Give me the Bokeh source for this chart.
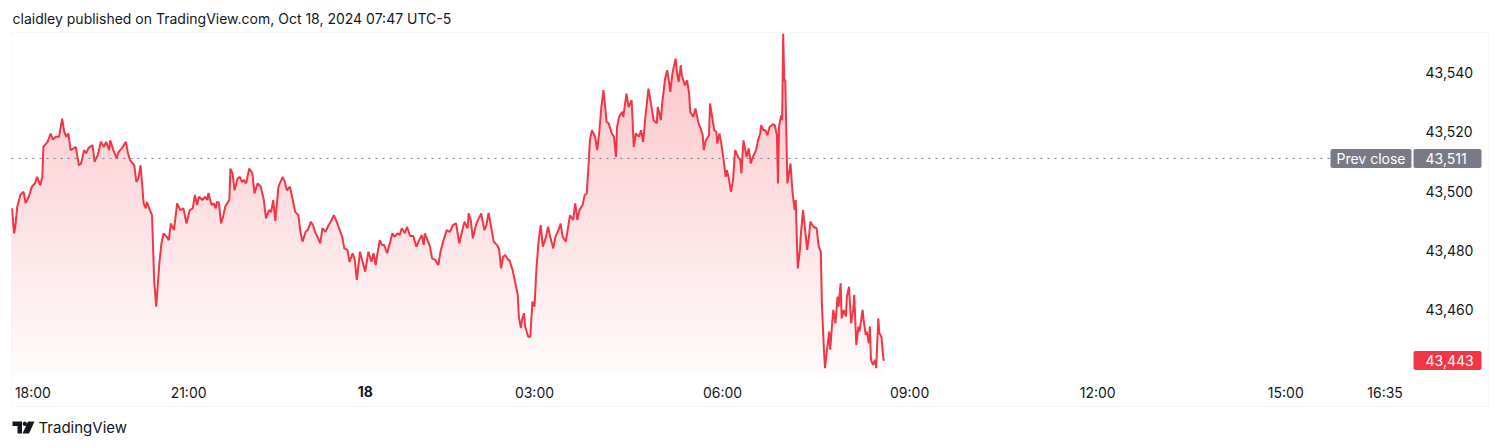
import sys
import numpy as np
from bokeh.plotting import figure
from bokeh.models import (FixedTicker, NumeralTickFormatter, Label,
                          BoxAnnotation, PolyAnnotation, Range1d)
from bokeh.embed import file_html
from bokeh.resources import INLINE

# ---------------- data ----------------
title_text = "claidley published on TradingView.com, Oct 18, 2024 07:47 UTC-5"
footer_text = "TradingView"

# x = bar index (1-minute bars, 0 = 18:00 of Oct 17)
bars = [
    -20, -18, -17, -15, -12, -9, -7, -4, -1, 2,
    4, 7, 9, 10, 14, 17, 19, 22, 25, 28,
    30, 32, 34, 36, 39, 41, 44, 46, 49, 51,
    53, 57, 59, 62, 65, 68, 70, 73, 74, 77,
    80, 82, 85, 89, 91, 93, 97, 99, 101, 103,
    106, 108, 109, 112, 114, 116, 118, 121, 123, 125,
    128, 130, 132, 135, 138, 141, 144, 147, 150,
    153, 155, 157, 159, 162, 165, 167, 168, 171, 173,
    175, 176, 178, 180, 182, 184, 186, 188, 189, 191,
    193, 196, 198, 200, 202, 204, 207, 210, 212, 215,
    218, 221, 223, 226, 228, 230, 232, 235, 239, 241,
    243, 246, 248, 251, 254, 256, 258, 261, 263, 266,
    268, 270, 273, 275, 277, 280, 283, 285, 288, 290,
    293, 296, 298, 301, 303, 306, 308, 310, 313, 315,
    318, 321, 324, 326, 328, 330, 332, 334, 336, 339,
    342, 344, 346, 349, 351, 353, 356, 358, 361, 364,
    367, 369, 372, 374, 375, 377, 380, 382, 385, 388,
    390, 393, 396, 399, 402, 405, 408, 411, 413, 416,
    417, 419, 421, 424, 426, 429, 432, 434, 436, 439,
    441, 444, 446, 448, 450, 452, 455, 456, 459, 461,
    464, 465, 467, 468, 470, 471, 474, 476, 478, 480,
    482, 484, 486,
    488, 491, 493, 495, 498, 500, 503, 505, 507, 510,
    512, 514, 517, 519, 521, 523, 526, 528, 530, 532,
    533, 535, 538, 540, 542, 544, 546, 549, 551, 554,
    556, 558, 559, 561, 564, 565, 568, 570, 573, 575,
    577, 580, 582, 584, 586, 589, 592, 594, 597, 598,
    601, 602, 605, 607, 609, 610, 612, 615, 617, 618,
    620, 621, 624, 626, 628, 629, 632, 634, 637, 639,
    641, 642, 644, 647, 648, 650, 652,
    654, 655, 657, 659, 661, 663, 664, 666, 668, 670,
    672, 675, 677, 678, 680, 683, 685, 687, 689, 692,
    694, 696, 697, 699, 701, 703, 705, 708, 710, 712,
    713, 714, 716, 717, 718, 719, 720, 722, 723, 725,
    727, 729, 730, 731, 732, 734, 735, 737, 739, 741,
    743, 744, 747, 750, 752, 754, 755, 757, 758, 760,
    762, 763, 765, 766, 768, 770, 771, 773, 774, 776,
    778, 779, 781, 783, 785, 786, 788, 790, 791, 794,
    795, 797, 798, 800, 801, 802, 804, 806, 807, 809,
    810, 812, 814, 815,
]

prices = [
    43494.2, 43485.8, 43487.6, 43494.7, 43498.7, 43499.8, 43496.0, 43498.1, 43501.5, 43502.7,
    43504.8, 43502.0, 43504.8, 43514.9, 43516.6, 43519.4, 43517.4, 43518.3, 43518.3, 43524.4,
    43519.9, 43518.3, 43519.4, 43513.8, 43514.4, 43514.9, 43508.7, 43509.3, 43513.8, 43512.7,
    43514.4, 43515.5, 43509.9, 43512.1, 43516.6, 43514.9, 43516.6, 43513.8, 43517.1, 43513.8,
    43511.0, 43513.2, 43514.4, 43516.6, 43512.7, 43510.4, 43508.7, 43503.1, 43504.3, 43508.7,
    43495.9, 43494.2, 43496.4, 43493.6, 43491.9, 43470.1, 43461.1, 43475.7, 43482.4, 43485.8,
    43484.6, 43483.5, 43489.1, 43486.9, 43495.9, 43493.6, 43494.2, 43489.1, 43493.6,
    43494.2, 43498.7, 43495.3, 43498.1, 43497.0, 43498.1, 43497.0, 43499.4, 43495.3, 43495.9,
    43494.2, 43496.4, 43496.1, 43489.1, 43491.4, 43494.7, 43495.9, 43497.0, 43507.6, 43506.0,
    43500.3, 43504.3, 43504.8, 43503.1, 43503.7, 43502.6, 43507.6, 43506.0, 43499.2, 43502.6,
    43501.5, 43497.0, 43490.8, 43493.6, 43493.0, 43497.0, 43490.0, 43501.5, 43504.8, 43503.1,
    43500.3, 43501.5, 43498.1, 43493.0, 43491.9, 43486.3, 43483.0, 43486.3, 43486.9, 43489.7,
    43488.6, 43486.3, 43484.1, 43482.4, 43487.5, 43486.3, 43488.6, 43489.7, 43491.9, 43490.3,
    43487.5, 43484.6, 43480.7, 43480.2, 43476.2, 43479.1, 43476.8, 43470.1, 43479.6, 43476.8,
    43472.9, 43479.6, 43476.2, 43479.1, 43475.1, 43479.6, 43483.5, 43481.9, 43481.9, 43479.1,
    43483.0, 43485.8, 43484.6, 43485.8, 43485.2, 43487.5, 43485.8, 43488.0, 43484.9, 43484.9,
    43481.3, 43483.0, 43485.2, 43481.9, 43485.8, 43484.1, 43481.3, 43477.4, 43476.8, 43475.1,
    43479.6, 43483.5, 43486.9, 43486.3, 43488.6, 43489.1, 43482.4, 43486.9, 43489.7, 43487.5,
    43492.5, 43490.3, 43484.1, 43488.6, 43490.3, 43492.5, 43486.9, 43488.6, 43492.7, 43486.9,
    43483.0, 43481.9, 43480.7, 43474.0, 43477.9, 43478.5, 43476.8, 43476.8, 43473.5, 43470.1,
    43465.1, 43457.8, 43453.9, 43456.6, 43458.9, 43454.4, 43451.0, 43451.0, 43462.8, 43461.1,
    43474.6, 43483.5, 43488.6,
    43481.3, 43484.6, 43488.0, 43484.6, 43480.7, 43484.6, 43486.9, 43489.1, 43484.6, 43483.0,
    43487.5, 43491.9, 43490.3, 43495.9, 43490.3, 43493.6, 43495.3, 43498.7, 43499.2, 43510.4,
    43517.1, 43520.5, 43518.3, 43513.8, 43519.9, 43528.3, 43534.0, 43523.3, 43522.8, 43519.4,
    43518.3, 43511.5, 43521.6, 43525.0, 43526.7, 43525.0, 43532.8, 43528.3, 43530.6, 43514.9,
    43519.4, 43518.3, 43520.5, 43516.6, 43524.4, 43534.5, 43528.3, 43523.9, 43522.8, 43528.3,
    43523.9, 43528.9, 43537.9, 43540.7, 43536.2, 43533.4, 43539.6, 43544.6, 43538.4, 43536.7,
    43542.4, 43539.0, 43535.6, 43537.3, 43532.8, 43526.7, 43525.0, 43527.8, 43522.8, 43521.1,
    43518.8, 43513.8, 43517.1, 43518.8, 43529.5, 43525.0, 43520.5,
    43519.9, 43516.0, 43519.4, 43515.5, 43510.4, 43504.8, 43507.1, 43504.3, 43499.8, 43503.7,
    43513.8, 43511.5, 43510.4, 43506.0, 43517.1, 43511.5, 43514.4, 43509.3, 43511.5, 43513.8,
    43517.1, 43519.4, 43522.2, 43520.5, 43520.5, 43518.8, 43521.6, 43522.5, 43522.2, 43518.8,
    43502.6, 43521.6, 43525.5, 43523.9, 43553.0, 43537.3, 43537.3, 43502.6, 43504.8, 43509.3,
    43499.2, 43493.6, 43497.0, 43484.6, 43474.0, 43480.2, 43485.8, 43493.6, 43486.9, 43480.2,
    43485.8, 43489.7, 43488.0, 43487.5, 43481.3, 43479.6, 43462.3, 43446.6, 43440.4, 43446.6,
    43452.7, 43446.6, 43456.1, 43460.0, 43455.5, 43464.5, 43461.1, 43469.0, 43457.2, 43460.0,
    43457.8, 43464.5, 43467.8, 43455.5, 43460.0, 43465.1, 43448.2, 43454.4, 43452.7, 43460.0,
    43456.6, 43451.6, 43452.7, 43448.8, 43454.4, 43443.2, 43441.5, 43443.2, 43440.4, 43457.2,
    43452.2, 43451.0, 43443.2, 43443.0,
]

tick_bars = [0, 149, 480, 660, 839, 1019, 1199, 1294]
tick_labels = ["18:00", "21:00", "03:00", "06:00", "09:00", "12:00", "15:00", "16:35"]
day_bar = 318
day_label = "18"

price_ticks = [43460, 43480, 43500, 43520, 43540]
prev_close = 43511
last_price = 43443

# visible pane of the price chart (data units)
x_start, x_end = -20.5, 1319.3
y_start, y_end = 43438.6, 43553.4

if len(bars) != len(prices):
    print("length mismatch", len(bars), len(prices), file=sys.stderr)
n = min(len(bars), len(prices))
bars = bars[:n]
prices = prices[:n]

# ---------------- layout / styling ----------------
FONT = "Inter"
TXT = "#131722"
RED = "#f23645"
GREY = "#787b86"
W, H = 1498, 446
PANE_L, PANE_R, PANE_T, PANE_B = 11, 1411, 32, 373     # pixel box of the pane
BOX_R, BOX_B = 1488, 406                                # outer widget border

# the plotting frame covers the whole canvas; extend ranges linearly
sx = (x_end - x_start) / (PANE_R - PANE_L)
sy = (y_end - y_start) / (PANE_B - PANE_T)
cx0, cx1 = x_start - PANE_L * sx, x_start + (W - PANE_L) * sx
cy_top, cy_bot = y_end + PANE_T * sy, y_end - (H - PANE_T) * sy

p = figure(width=W, height=H, x_range=Range1d(cx0, cx1),
           y_range=Range1d(cy_bot, cy_top), y_axis_location="right",
           toolbar_location=None, output_backend="svg",
           min_border=0, min_border_left=0, min_border_right=0,
           min_border_top=0, min_border_bottom=0,
           background_fill_color="white", border_fill_color="white",
           outline_line_color=None)
p.grid.visible = False

# gradient under the line (image) + white mask above the line
N = 340
img = np.zeros((N, 1), dtype=np.uint32)
view = img.view(dtype=np.uint8).reshape((N, 1, 4))
alphas = np.linspace(0.02, 0.30, N)
view[:, 0, 0] = np.round(255 - alphas * (255 - 242)).astype(np.uint8)
view[:, 0, 1] = np.round(255 - alphas * (255 - 54)).astype(np.uint8)
view[:, 0, 2] = np.round(255 - alphas * (255 - 69)).astype(np.uint8)
view[:, 0, 3] = 255
p.image_rgba(image=[img], x=x_start, y=y_start, dw=bars[-1] - x_start,
             dh=(y_end - 0.3) - y_start)
mask_x = list(bars) + [x_end, x_end, x_start - 1, x_start - 1]
mask_y = list(prices) + [prices[-1], y_end, y_end, prices[0]]
p.patch(mask_x, mask_y, fill_color="white", fill_alpha=1, line_color=None)
p.line(bars, prices, line_color=RED, line_width=2)

# prev close dotted line across the pane
p.line([x_start, x_end], [prev_close, prev_close], line_color=GREY,
       line_width=1, line_dash="2 5")

# axes (drawn at the canvas edges, labels pulled back into place)
for ax in (p.xaxis[0], p.yaxis[0]):
    ax.axis_line_color = None
    ax.major_tick_line_color = None
    ax.minor_tick_line_color = None
    ax.major_tick_out = 0
    ax.major_tick_in = 0
    ax.minor_tick_out = 0
    ax.minor_tick_in = 0
    ax.major_label_text_font = FONT
    ax.major_label_text_font_size = "14px"
    ax.major_label_text_color = TXT
p.xaxis.ticker = FixedTicker(ticks=tick_bars)
p.xaxis.major_label_overrides = {b: l for b, l in zip(tick_bars, tick_labels)}
p.xaxis.major_label_standoff = 383 - H
p.yaxis.ticker = FixedTicker(ticks=price_ticks)
p.yaxis.formatter = NumeralTickFormatter(format="0,0")
p.yaxis.major_label_standoff = 1425 - W

# bold day label (canvas y is measured from the top)
p.add_layout(Label(x=day_bar, y=391, x_units="data", y_units="canvas",
                   text=day_label, text_font=FONT, text_font_size="14px",
                   text_font_style="bold", text_color=TXT,
                   text_align="center", text_baseline="middle"))


def box(**kw):
    try:
        return BoxAnnotation(border_radius=2, **kw)
    except Exception:
        return BoxAnnotation(**kw)


half = 3.2
# prev close badges
p.add_layout(box(left=1330, right=1411, left_units="canvas", right_units="canvas",
                 bottom=prev_close - half, top=prev_close + half,
                 fill_color=GREY, fill_alpha=1, line_color=None))
p.add_layout(box(left=1413, right=1481, left_units="canvas", right_units="canvas",
                 bottom=prev_close - half, top=prev_close + half,
                 fill_color=GREY, fill_alpha=1, line_color=None))
p.add_layout(Label(x=1370.5, y=prev_close, x_units="canvas", text="Prev close",
                   text_font=FONT, text_font_size="14px", text_color="white",
                   text_align="center", text_baseline="middle"))
p.add_layout(Label(x=1425, y=prev_close, x_units="canvas",
                   text=f"{prev_close:,}", text_font=FONT, text_font_size="14px",
                   text_color="white", text_align="left", text_baseline="middle"))
# last price badge
p.add_layout(box(left=1413, right=1481, left_units="canvas", right_units="canvas",
                 bottom=last_price - half, top=last_price + half,
                 fill_color=RED, fill_alpha=1, line_color=None))
p.add_layout(Label(x=1425, y=last_price, x_units="canvas",
                   text=f"{last_price:,}", text_font=FONT, text_font_size="14px",
                   text_color="white", text_align="left", text_baseline="middle"))

# outer widget border
p.add_layout(BoxAnnotation(left=PANE_L, right=BOX_R, top=PANE_T, bottom=BOX_B,
                           left_units="canvas", right_units="canvas",
                           top_units="canvas", bottom_units="canvas",
                           fill_alpha=0, line_color="#e0e3eb", line_width=1))

# header / footer text
p.add_layout(Label(x=12, y=18, x_units="canvas", y_units="canvas",
                   text=title_text, text_font=FONT, text_font_size="14px",
                   text_color=TXT, text_align="left", text_baseline="middle"))
p.add_layout(Label(x=38, y=427, x_units="canvas", y_units="canvas",
                   text=footer_text, text_font=FONT, text_font_size="15px",
                   text_color=TXT, text_align="left", text_baseline="middle"))

# TradingView logo (decorative shapes, canvas units)
logo_T = [(12, 421), (21.5, 421), (21.5, 433), (17, 433), (17, 425.5), (12, 425.5)]
logo_slash = [(27.5, 421), (34, 421), (28.5, 433), (22, 433)]
ang = np.linspace(0, 2 * np.pi, 12, endpoint=False)
logo_dot = [(24.3 + 2.2 * np.cos(a), 423.3 + 2.2 * np.sin(a)) for a in ang]
for shape in (logo_T, logo_slash, logo_dot):
    p.add_layout(PolyAnnotation(xs=[a for a, b in shape], ys=[b for a, b in shape],
                                xs_units="canvas", ys_units="canvas",
                                fill_color=TXT, fill_alpha=1, line_color=None))

open("out.html", "w").write(file_html(p, INLINE))
